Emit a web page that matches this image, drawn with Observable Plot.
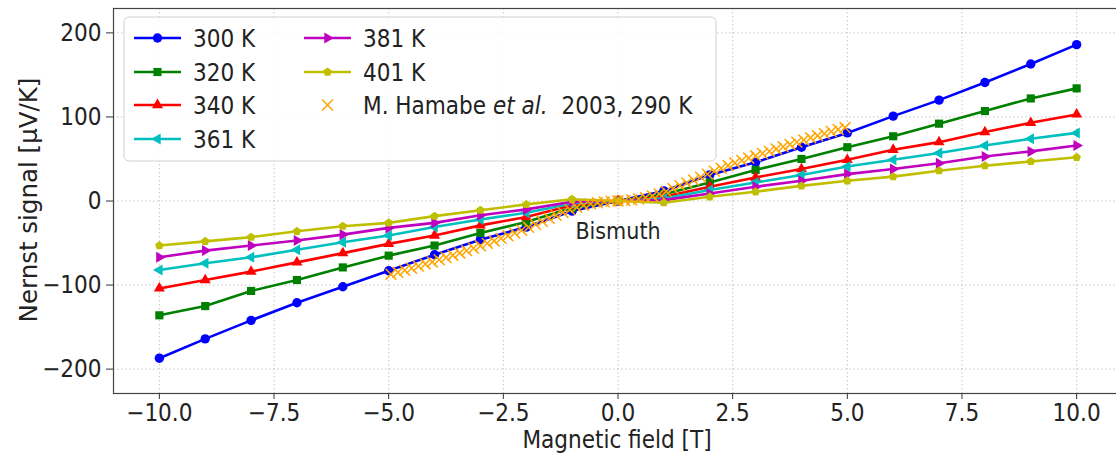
<!DOCTYPE html>
<html><head><meta charset="utf-8">
<script src="https://cdn.jsdelivr.net/npm/d3@7"></script>
<script src="https://cdn.jsdelivr.net/npm/@observablehq/plot@0.6"></script>
<style>
html,body{margin:0;padding:0;background:#fff;overflow:hidden;}
#chart{width:1116px;height:458px;overflow:hidden;}
#chart svg{max-width:none !important;}
</style></head><body><div id="chart"></div>
<script>
// ---- data ----
const field = [-10,-9,-8,-7,-6,-5,-4,-3,-2,-1,0,1,2,3,4,5,6,7,8,9,10];
const n300 = [-187,-164,-142,-121,-102,-83,-64,-46,-31,-12,0,12,31,46,64,81,101,120,141,163,186];
const n320 = [-136,-125,-107,-94,-79,-65,-53,-38,-25,-8,0,8,22,37,50,64,77,92,107,122,134];
const n340 = [-104,-94,-84,-73,-62,-51,-41,-29,-19,-5,0,5,17,28,38,49,61,70,82,93,103];
const n361 = [-82,-74,-67,-58,-49,-41,-31,-22,-14,-3,0,3,13,22,31,41,49,57,66,74,81];
const n381 = [-67,-59,-53,-47,-40,-32,-26,-17,-10,-1,0,1,9,17,24,32,38,45,53,59,66];
const n401 = [-53,-48,-43,-36,-30,-26,-18,-11,-4,2,0,-2,5,11,18,24,29,36,42,47,52];
const seriesNames = ["300 K","320 K","340 K","361 K","381 K","401 K"];
const hamabeB = [-4.95,-4.8,-4.65,-4.5,-4.35,-4.2,-4.05,-3.9,-3.75,-3.6,-3.45,-3.3,-3.15,-3.0,-2.85,-2.7,-2.55,-2.4,-2.25,-2.1,-1.95,-1.8,-1.65,-1.5,-1.35,-1.2,-1.05,-0.9,-0.75,-0.6,-0.45,-0.3,-0.15,0,
  0.15,0.3,0.45,0.6,0.75,0.9,1.05,1.2,1.35,1.5,1.65,1.8,1.95,2.1,2.25,2.4,2.55,2.7,2.85,3.0,3.15,3.3,3.45,3.6,3.75,3.9,4.05,4.2,4.35,4.5,4.65,4.8,4.95];
const hamabeS = [-87.1,-84.8,-82.4,-80,-77.5,-75,-72.5,-69.9,-67.2,-64.5,-61.8,-59,-56.2,-53.3,-50.4,-47.5,-44.5,-41.4,-38.2,-34.8,-31.3,-27.8,-24.2,-20.6,-17,-13.6,-10.3,-7.5,-5.2,-3.4,-2.0,-1.0,-0.3,0,
  0.4,1.2,2.4,4,6,8.5,11.5,14.8,18.2,21.6,25,28.4,32,35.5,39,42.2,45.3,48.3,51.1,53.8,56.5,59.2,61.9,64.6,67.3,70,72.6,75.2,77.7,80.2,82.7,85.1,87.4];
const hamabeLabel = ["M. Hamabe ", "et al.", " 2003, 290 K"];
const xTicks = [-10,-7.5,-5,-2.5,0,2.5,5,7.5,10];
const yTicks = [-200,-100,0,100,200];
const xLabel = "Magnetic field [T]";
const yLabel = "Nernst signal [µV/K]";
const annotation = "Bismuth";

// ---- styling ----
const FONT = "'DejaVu Sans Condensed', 'DejaVu Sans', sans-serif";
const FS = 24;
const pentagon = {draw(ctx, size){
  const R = Math.sqrt(size/2.3776);
  for (let i=0;i<5;i++){const a=-Math.PI/2+i*2*Math.PI/5;const x=R*Math.cos(a),y=R*Math.sin(a); if(i) ctx.lineTo(x,y); else ctx.moveTo(x,y);}
  ctx.closePath();
}};
const styles = [
  {color:"#0000ff", symbol:d3.symbolCircle, r:4.7, rotate:0},
  {color:"#008000", symbol:d3.symbolSquare, r:4.6, rotate:0},
  {color:"#ff0000", symbol:d3.symbolTriangle, r:4.1, rotate:0},
  {color:"#00bfbf", symbol:d3.symbolTriangle, r:4.1, rotate:-90},
  {color:"#bf00bf", symbol:d3.symbolTriangle, r:4.1, rotate:90},
  {color:"#bfbf00", symbol:pentagon, r:3.9, rotate:0}
];
const allValues = [n300,n320,n340,n361,n381,n401];
const series = seriesNames.map((name,k)=>({name, values:allValues[k], ...styles[k]}));
const hamabe = hamabeB.map((B,i)=>({B, v:hamabeS[i]}));

const marks = [
  Plot.gridX(xTicks, {stroke:"#b0b0b0", strokeOpacity:0.9, strokeWidth:0.8, strokeDasharray:"1.5,2.5"}),
  Plot.gridY(yTicks, {stroke:"#b0b0b0", strokeOpacity:0.9, strokeWidth:0.8, strokeDasharray:"1.5,2.5"})
];
for (const s of series) {
  const rows = field.map((B,i)=>({B, v:s.values[i]}));
  marks.push(Plot.line(rows, {x:"B", y:"v", stroke:s.color, strokeWidth:2.6}));
  marks.push(Plot.dot(rows, {x:"B", y:"v", fill:s.color, stroke:"none", symbol:s.symbol, r:s.r, rotate:s.rotate}));
}
marks.push(Plot.dot(hamabe, {x:"B", y:"v", symbol:"times", stroke:"#ffa500", strokeWidth:1.5, r:5}));
marks.push(Plot.text([annotation], {x:()=>0, y:()=>-36, text:d=>d, fontSize:23, fill:"#262626"}));
marks.push(Plot.axisX(xTicks, {tickFormat:d3.format(".1f"), tickSize:6, tickPadding:4, fontSize:FS, label:null, stroke:"#333"}));
marks.push(Plot.axisY(yTicks, {tickFormat:d3.format("d"), tickSize:7, tickPadding:5, fontSize:FS, label:null, stroke:"#333"}));
marks.push(Plot.frame({stroke:"#444", strokeWidth:1.2}));

const chart = Plot.plot({
  width:1130, height:458,
  marginLeft:113, marginRight:8, marginTop:8, marginBottom:65,
  x:{domain:[-11,11]},
  y:{domain:[-229,229]},
  style:{fontFamily:FONT, fontSize:FS+"px", color:"#222", background:"#fff", overflow:"visible", maxWidth:"none"},
  marks
});
document.getElementById("chart").appendChild(chart);

// ---- legend & axis labels ----
const svg = d3.select(chart);
svg.append("text").attr("x",617).attr("y",448).attr("text-anchor","middle")
  .attr("font-family",FONT).attr("font-size",FS).attr("fill","#222").text(xLabel);
svg.append("text").attr("transform","translate(37,200) rotate(-90)").attr("text-anchor","middle")
  .attr("font-family","DejaVu Sans").attr("font-size",24.5).attr("fill","#222").text(yLabel);

const lg = svg.append("g").attr("font-family",FONT).attr("font-size",FS).attr("fill","#222").attr("text-anchor","start");
lg.append("rect").attr("x",124).attr("y",17).attr("width",592).attr("height",144).attr("rx",5)
  .attr("fill","#fff").attr("fill-opacity",0.85).attr("stroke","#d0d0d0").attr("stroke-width",1);
const slots = [[134,38],[134,72],[134,105],[134,139],[304,38],[304,72]];
series.forEach((s,k)=>{
  const [x0,y0] = slots[k];
  lg.append("line").attr("x1",x0).attr("x2",x0+47).attr("y1",y0).attr("y2",y0).attr("stroke",s.color).attr("stroke-width",2.6);
  lg.append("path").attr("d", d3.symbol(s.symbol, Math.PI*s.r*s.r)()).attr("fill",s.color)
    .attr("transform",`translate(${x0+23.5},${y0}) rotate(${s.rotate})`);
  lg.append("text").attr("x",x0+59).attr("y",y0+8.5).attr("text-anchor","start").text(s.name);
});
lg.append("path").attr("d", d3.symbol(d3.symbolTimes, Math.PI*5*5)()).attr("fill","none")
  .attr("stroke","#ffa500").attr("stroke-width",1.5).attr("transform","translate(327.5,105)");
const ht = lg.append("text").attr("x",363).attr("y",113.5).attr("text-anchor","start");
ht.append("tspan").text(hamabeLabel[0]);
ht.append("tspan").attr("font-style","italic").text(hamabeLabel[1]);
ht.append("tspan").attr("dx",7).text(hamabeLabel[2]);
</script></body></html>
